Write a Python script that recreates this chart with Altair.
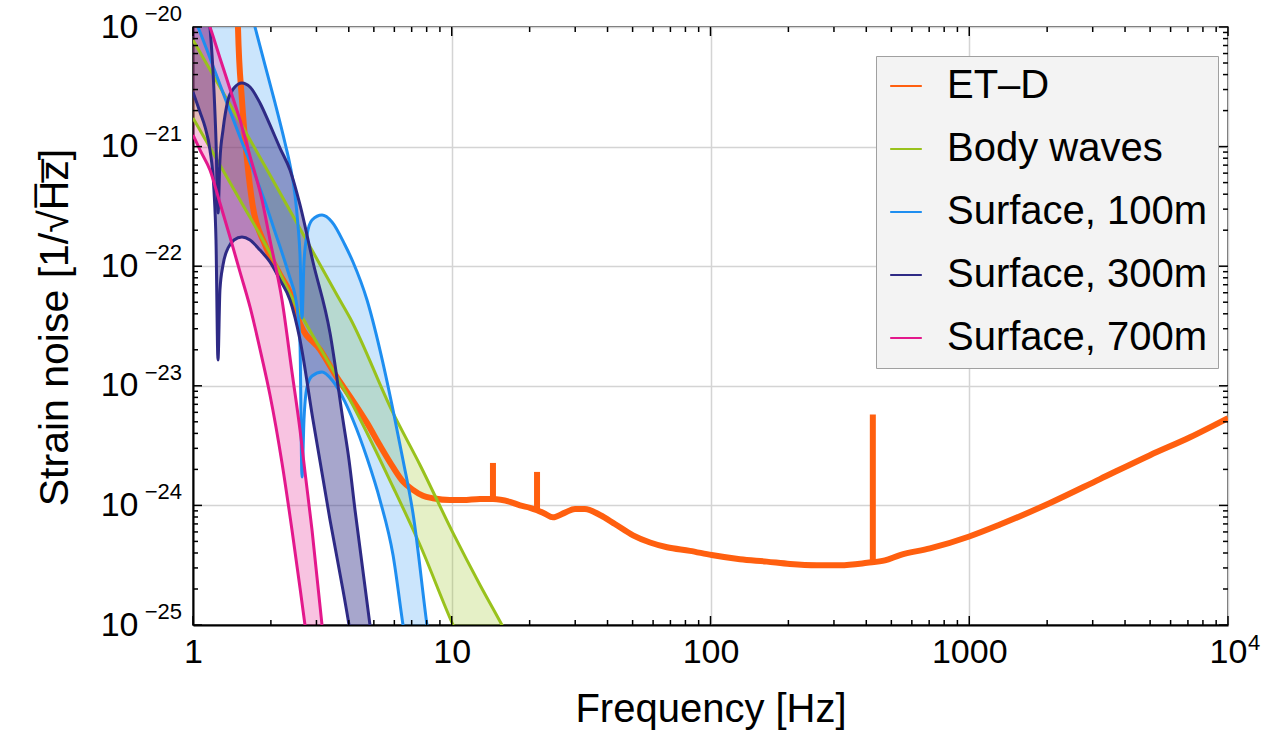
import altair as alt
import pandas as pd

SERIES = ["ET–D", "Body waves", "Surface, 100m", "Surface, 300m", "Surface, 700m"]
COLORS = ["#ff5f0f", "#99c21c", "#1e8ef0", "#2e2a85", "#e3188c"]
FILL_OPACITY = [0.0, 0.25, 0.23, 0.42, 0.26]

# ---- ET-D sensitivity (frequency in Hz, log10 strain) ----
etd_f = [1.479, 1.492, 1.546, 1.617, 1.70, 1.898, 2.169, 2.371, 2.592, 3.10,
         3.601, 4.045, 4.705, 5.28, 5.93, 6.48, 7.08, 7.74, 8.46, 9.84,
         11.05, 12.86, 14.43, 16.8, 18.36, 20.07, 21.36, 22.93, 24.6, 27.4,
         29.95, 32.7, 37.4, 42.7, 50.2, 58.4, 67.9, 83.3, 101, 130,
         165, 203, 258, 317, 403, 472, 540, 705, 1000, 1315,
         2052, 3200, 4995, 7133, 10000]
etd_log_h = [-19.44, -20.0, -20.61, -21.11, -21.49, -21.82, -22.07, -22.22, -22.48, -22.70,
             -22.93, -23.09, -23.31, -23.50, -23.68, -23.80, -23.87, -23.92, -23.94, -23.955,
             -23.955, -23.946, -23.946, -23.97, -24.0, -24.02, -24.04, -24.07, -24.10, -24.06,
             -24.03, -24.03, -24.08, -24.155, -24.25, -24.31, -24.35, -24.38, -24.415, -24.45,
             -24.47, -24.49, -24.50, -24.50, -24.48, -24.46, -24.415, -24.36, -24.26, -24.16,
             -23.98, -23.78, -23.58, -23.43, -23.27]
# narrow resonance lines of ET-D
spike_f = [14.43, 21.36, 424]
spike_base = [-23.946, -24.04, -24.47]
spike_top = [-23.645, -23.72, -23.24]

# ---- Body waves band ----
body_f = [1.0, 1.519, 1.984, 2.435, 3.601, 4.045, 5.93, 7.54, 10.2, 12.86, 15.78, 18.36]
body_upper = [-20.109, -20.794, -21.237, -21.580, -22.241, -22.433, -23.227, -23.662,
              -24.247, -24.666, -25.017, -25.293]
body_lower = [-20.761, -21.446, -21.890, -22.283, -22.926, -23.119, -23.846, -24.331,
              -25.017, -25.460, -25.962, -26.296]

# ---- Surface waves, 100 m ----
s100_f = [1.0, 1.045, 1.163, 1.329, 1.519, 1.736, 1.898, 2.075, 2.268, 2.371,
          2.479, 2.545, 2.592, 2.638, 2.685, 2.758, 2.884, 3.152, 3.445, 3.867,
          4.153, 4.705, 5.28, 5.93, 6.48, 7.08, 8.02, 9.01]
s100_upper = [-18.018, -18.186, -18.562, -19.022, -19.482, -20.0, -20.318, -20.635, -20.970, -21.154,
              -21.405, -21.656, -21.906, -22.433, -21.965, -21.739, -21.614, -21.572, -21.630, -21.823,
              -21.965, -22.283, -22.701, -23.202, -23.620, -24.064, -25.0, -25.794]
s100_lower = [-19.9, -20.0, -20.259, -20.594, -20.920, -21.237, -21.463, -21.714, -21.965, -22.099,
              -22.241, -22.408, -22.659, -23.763, -23.286, -23.010, -22.918, -22.885, -22.952, -23.135,
              -23.286, -23.604, -23.955, -24.415, -25.0, -25.543, -26.296, -27.048]

# ---- Surface waves, 300 m ----
s300_f = [1.0, 1.064, 1.113, 1.163, 1.205, 1.227, 1.249, 1.271, 1.306, 1.366,
          1.440, 1.546, 1.661, 1.815, 1.984, 2.169, 2.371, 2.592, 2.909, 3.385,
          3.798, 4.008, 4.228, 4.83]
s300_upper = [-19.273, -19.523, -19.732, -20.0, -20.527, -20.945, -21.555, -21.112, -20.861, -20.610,
              -20.510, -20.468, -20.502, -20.635, -20.819, -21.012, -21.196, -21.488, -21.965, -22.559,
              -23.286, -23.620, -24.038, -25.0]
s300_lower = [-20.543, -20.711, -20.836, -21.028, -21.363, -21.781, -22.784, -22.199, -21.990, -21.848,
              -21.781, -21.756, -21.781, -21.865, -21.965, -22.115, -22.283, -22.617, -23.286, -24.122,
              -24.707, -25.0, -25.334, -26.129]

# ---- Surface waves, 700 m ----
s700_f = [1.0, 1.064, 1.163, 1.271, 1.39, 1.519, 1.661, 1.848, 1.984, 2.208,
          2.413, 2.592, 2.709, 2.884, 3.152]
s700_upper = [-19.557, -19.791, -20.0, -20.259, -20.518, -20.778, -21.079, -21.446, -21.781, -22.283,
              -22.885, -23.370, -23.721, -24.206, -25.0]
s700_lower = [-20.903, -21.028, -21.196, -21.472, -21.756, -22.048, -22.341, -22.768, -23.077, -23.645,
              -24.206, -24.691, -25.0, -25.460, -26.129]

# ---- axes ----
x_major = [1, 10, 100, 1000, 10000]
y_major = [1e-25, 1e-24, 1e-23, 1e-22, 1e-21, 1e-20]
y_exponents = ["−25", "−24", "−23", "−22", "−21", "−20"]
x_minor = [m * 10 ** d for d in range(4) for m in range(2, 10)]
y_minor = [m * 10.0 ** d for d in range(-25, -20) for m in range(2, 10)]

bands = [
    ("Body waves", body_f, body_upper, body_lower),
    ("Surface, 100m", s100_f, s100_upper, s100_lower),
    ("Surface, 300m", s300_f, s300_upper, s300_lower),
    ("Surface, 700m", s700_f, s700_upper, s700_lower),
]

assert len(etd_f) == len(etd_log_h)
etd_df = pd.DataFrame({"f": etd_f, "h": [10.0 ** v for v in etd_log_h]})
line_rows = []
area_dfs = []
for k, (name, fs, up, lo) in enumerate(bands):
    assert len(fs) == len(up) == len(lo), name
    for i, (f, a) in enumerate(zip(fs, up)):
        line_rows.append(dict(series=name, curve=f"{k + 1} {name} a", f=f, h=10.0 ** a, idx=i))
    for i, (f, b) in enumerate(zip(fs, lo)):
        line_rows.append(dict(series=name, curve=f"{k + 1} {name} b", f=f, h=10.0 ** b, idx=i))
    area_dfs.append(pd.DataFrame({"f": fs, "hi": [10.0 ** a for a in up],
                                  "lo": [10.0 ** b for b in lo]}))
lines_df = pd.DataFrame(line_rows)
spikes_df = pd.DataFrame({"f": spike_f,
                          "lo": [10.0 ** v for v in spike_base],
                          "hi": [10.0 ** v for v in spike_top]})

W, H = 1035, 598
FONT = "Liberation Sans"
LABEL_SIZE = 34
EXP_SIZE = 22

x_scale = alt.Scale(type="log", domain=[1, 10000], nice=False)
y_scale = alt.Scale(type="log", domain=[1e-25, 1e-20], nice=False)
color_scale = alt.Scale(domain=SERIES, range=COLORS)

AX = alt.Axis(values=x_major, title="Frequency [Hz]",
              labelExpr="format(datum.value > 5000 ? 10 : datum.value, 'd')",
              labelFlush=False, labelOverlap=False,
              grid=True, gridColor="#d4d4d4", gridWidth=1.5, ticks=False,
              domainColor="black", domainWidth=2, labelFontSize=LABEL_SIZE, labelPadding=10,
              labelColor="black", labelFont=FONT, titleFont=FONT, titleFontSize=40,
              titleFontWeight="normal", titleColor="black", titleY=84, titleBaseline="middle")
AY = alt.Axis(values=y_major, title="Strain noise [1/√H̅z̅]", labelExpr="'10'",
              labelFlush=False, labelOverlap=False,
              grid=True, gridColor="#d4d4d4", gridWidth=1.5, ticks=False,
              domainColor="black", domainWidth=2, labelFontSize=LABEL_SIZE, labelPadding=55,
              labelColor="black", labelFont=FONT, titleFont=FONT, titleFontSize=41,
              titleFontWeight="normal", titleColor="black", titleAngle=270,
              titleX=-138, titleY=300, titleAlign="center", titleBaseline="middle")

X = alt.X("f:Q", scale=x_scale, axis=AX)

area_layers = []
for (name, *_), adf in zip(bands, area_dfs):
    k = SERIES.index(name)
    area_layers.append(
        alt.Chart(adf).mark_area(clip=True, strokeWidth=0, interpolate="monotone",
                                 color=COLORS[k], opacity=FILL_OPACITY[k]).encode(
            x=X, y=alt.Y("hi:Q", scale=y_scale, axis=AY), y2="lo:Q"))

etd_line = alt.Chart(etd_df).mark_line(clip=True, strokeJoin="round", interpolate="monotone",
                                       color=COLORS[0], strokeWidth=6).encode(
    x=X, y=alt.Y("h:Q", scale=y_scale, axis=AY))

spikes = alt.Chart(spikes_df).mark_rule(color=COLORS[0], strokeWidth=6, strokeCap="butt").encode(
    x=X, y=alt.Y("hi:Q", scale=y_scale, axis=AY), y2="lo:Q")

lines = alt.Chart(lines_df).mark_line(clip=True, strokeJoin="round", interpolate="monotone",
                                      strokeWidth=3).encode(
    x=X,
    y=alt.Y("h:Q", scale=y_scale, axis=AY),
    color=alt.Color("series:N", scale=color_scale,
                    legend=alt.Legend(title=None, orient="none", legendX=683, legendY=29)),
    detail="curve:N",
    order=alt.Order("idx:Q"),
)

xmin_df = pd.DataFrame({"v": x_minor})
xmaj_df = pd.DataFrame({"v": x_major})
ymin_df = pd.DataFrame({"v": y_minor})
ymaj_df = pd.DataFrame({"v": y_major, "exp": y_exponents})

def xticks(df, length):
    bx = alt.X("v:Q", scale=x_scale, axis=AX)
    return [
        alt.Chart(df).mark_rule(color="black", strokeWidth=1.5).encode(
            x=bx, y=alt.value(H), y2=alt.value(H - length)),
        alt.Chart(df).mark_rule(color="black", strokeWidth=1.5).encode(
            x=bx, y=alt.value(0), y2=alt.value(length)),
    ]

def yticks(df, length):
    by = alt.Y("v:Q", scale=y_scale, axis=AY)
    return [
        alt.Chart(df).mark_rule(color="black", strokeWidth=1.5).encode(
            y=by, x=alt.value(0), x2=alt.value(length)),
        alt.Chart(df).mark_rule(color="black", strokeWidth=1.5).encode(
            y=by, x=alt.value(W), x2=alt.value(W - length)),
    ]

tick_layers = xticks(xmin_df, 5) + xticks(xmaj_df, 9) + yticks(ymin_df, 5) + yticks(ymaj_df, 9)

# superscript exponents of the tick labels
y_exp = alt.Chart(ymaj_df).mark_text(align="right", baseline="middle", dy=-13,
                                     fontSize=EXP_SIZE, font=FONT, color="black").encode(
    y=alt.Y("v:Q", scale=y_scale, axis=AY), x=alt.value(-11), text="exp:N")
x_exp = alt.Chart(pd.DataFrame({"v": [10000], "exp": ["4"]})).mark_text(
    align="left", baseline="top", dx=20, dy=2, fontSize=EXP_SIZE, font=FONT, color="black").encode(
    x=alt.X("v:Q", scale=x_scale, axis=AX), y=alt.value(H + 6), text="exp:N")

chart = alt.layer(*area_layers, etd_line, spikes, lines, *tick_layers, y_exp, x_exp).properties(
    width=W, height=H,
    autosize=alt.AutoSizeParams(type="none"),
    padding={"left": 193, "top": 27, "right": 56, "bottom": 108},
    background="white",
).configure_view(stroke="#333333", strokeWidth=1.5).configure_legend(
    symbolType="stroke", symbolSize=1000, symbolStrokeWidth=2,
    labelFontSize=40, labelFont=FONT, labelColor="black", labelLimit=400,
    fillColor="#f3f3f3", strokeColor="#a0a0a0", padding=10,
    rowPadding=23, labelOffset=21,
)

chart.save("out.html", embed_options={"renderer": "svg", "actions": False})
